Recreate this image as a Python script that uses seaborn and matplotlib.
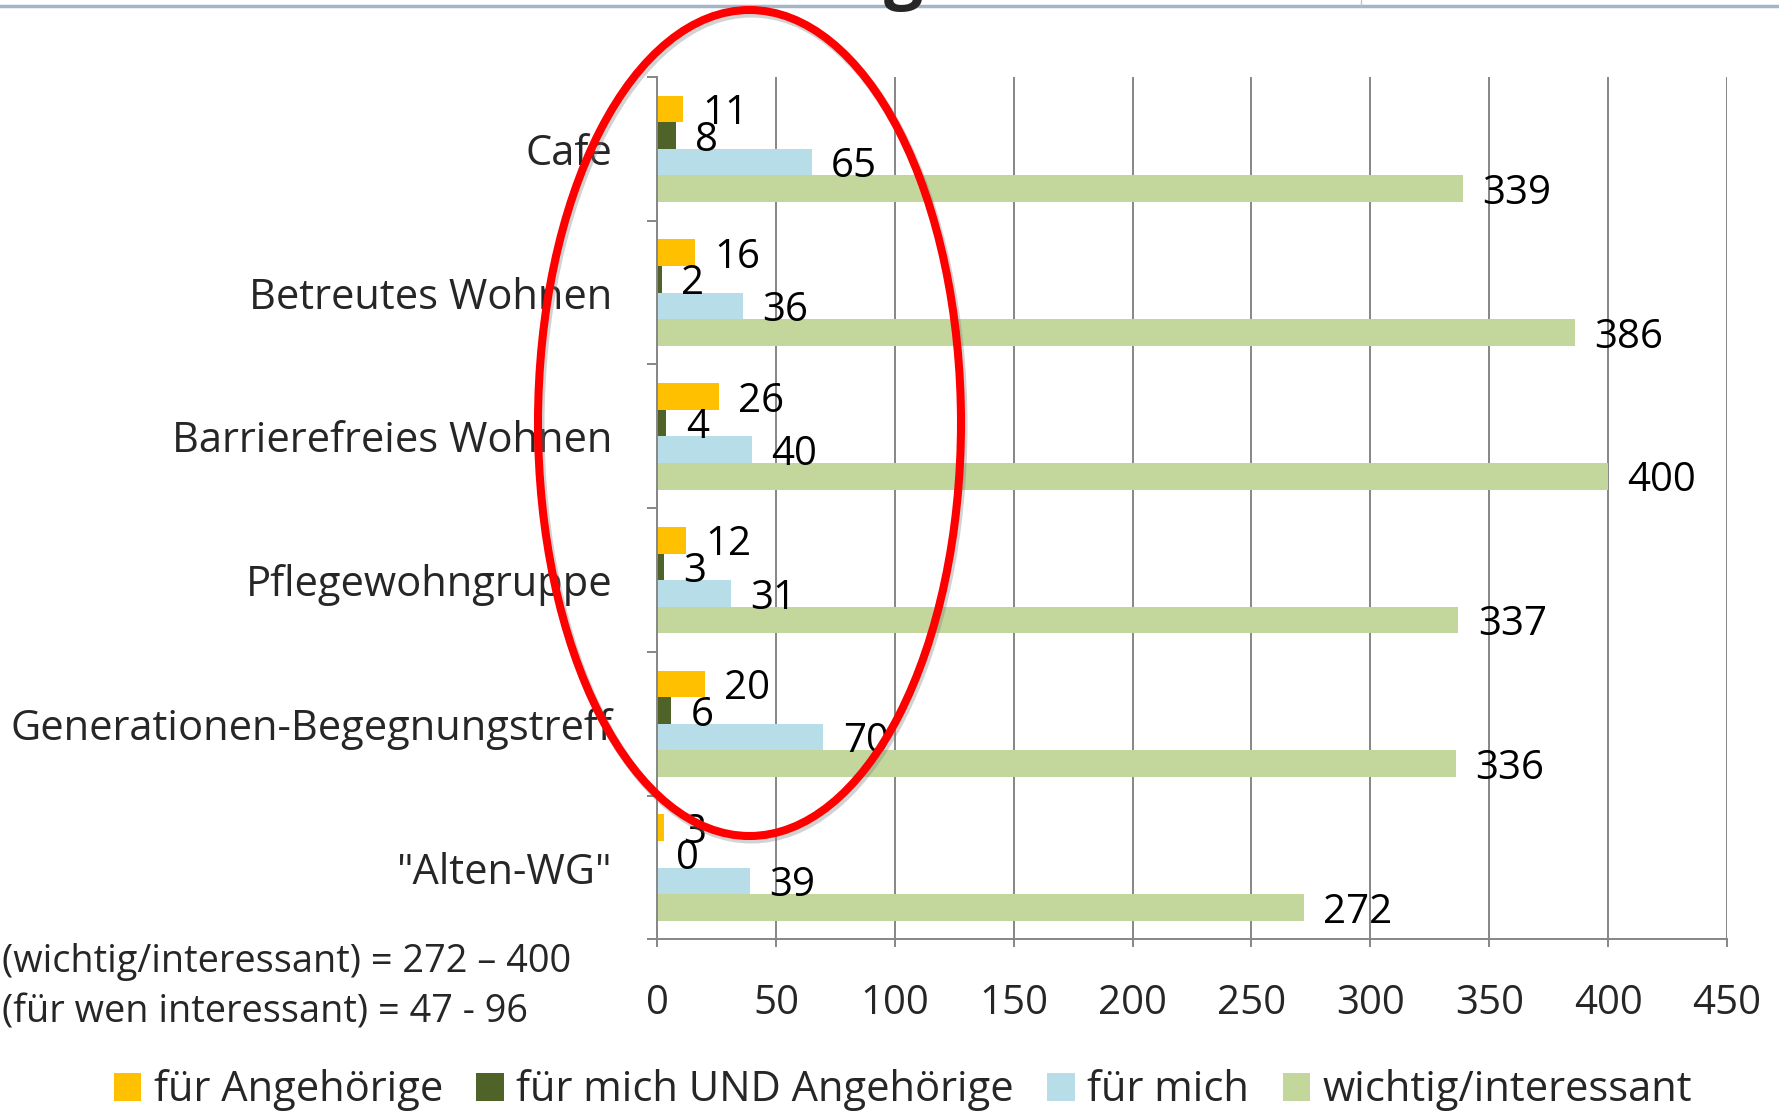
import matplotlib
matplotlib.use("Agg")
import matplotlib.pyplot as plt
import matplotlib.transforms as mtransforms
from matplotlib.patches import Ellipse
from matplotlib.lines import Line2D
import seaborn as sns
import pandas as pd

# Wohnformen und Angebote: wie viele Befragte sie wichtig finden und für wen
categories = ["Cafe", "Betreutes Wohnen", "Barrierefreies Wohnen",
              "Pflegewohngruppe", "Generationen-Begegnungstreff", '"Alten-WG"']
series = ["für Angehörige", "für mich UND Angehörige", "für mich",
          "wichtig/interessant"]
fuer_angehoerige = [11, 16, 26, 12, 20, 3]
fuer_mich_und_angehoerige = [8, 2, 4, 3, 6, 0]
fuer_mich = [65, 36, 40, 31, 70, 39]
wichtig_interessant = [339, 386, 400, 337, 336, 272]
x_ticks = [0, 50, 100, 150, 200, 250, 300, 350, 400, 450]
colors = ["#FFC000", "#4F6228", "#B7DEE8", "#C3D69B"]

rows = []
for s, vals in zip(series, [fuer_angehoerige, fuer_mich_und_angehoerige,
                            fuer_mich, wichtig_interessant]):
    for c, v in zip(categories, vals):
        rows.append({"Kategorie": c, "Gruppe": s, "Anzahl": v})
df = pd.DataFrame(rows)

sns.set_style("white")
plt.rcParams["font.family"] = ["Open Sans", "DejaVu Sans"]
FS_NUM = 29
FS_TXT = 30
GRID = "#868686"

fig = plt.figure(figsize=(17.79, 11.11), dpi=100)
ax = fig.add_axes([0.3693, 0.1544, 0.6015, 0.7763])

sns.barplot(data=df, y="Kategorie", x="Anzahl", hue="Gruppe",
            order=categories, hue_order=series, palette=colors,
            orient="h", width=0.74, gap=0, errorbar=None,
            saturation=1, linewidth=0, ax=ax)

# value labels just past the bar ends, sitting slightly low
for cont in ax.containers:
    for t in ax.bar_label(cont, fmt="%d", padding=14, fontsize=FS_NUM,
                          color="black"):
        t.xyann = (14, -3.5)

ax.set_xlim(0, 450)
ax.set_ylim(len(categories) - 0.5, -0.5)
ax.set_xticks(x_ticks)
ax.set_xticklabels([str(t) for t in x_ticks], fontsize=FS_NUM)
ax.set_xlabel("")
ax.set_ylabel("")

# category boundaries as major ticks, names on minor ticks at group centres
ax.set_yticks([i - 0.5 for i in range(len(categories) + 1)])
ax.set_yticklabels([])
ax.set_yticks(range(len(categories)), minor=True)
ax.set_yticklabels(categories, minor=True, fontsize=FS_TXT)
ax.tick_params(axis="y", which="major", length=7, width=1.4, color=GRID,
               direction="out", left=True)
ax.tick_params(axis="y", which="minor", length=0, pad=32)
ax.tick_params(axis="x", which="major", length=6, width=1.4, color=GRID,
               direction="out", bottom=True, pad=26)

ax.grid(axis="x", color=GRID, linewidth=1.4)
ax.grid(axis="y", visible=False)
ax.set_axisbelow(True)
for side in ["top", "right"]:
    ax.spines[side].set_visible(False)
for side in ["left", "bottom"]:
    ax.spines[side].set_color(GRID)
    ax.spines[side].set_linewidth(1.4)

handles, labels = ax.get_legend_handles_labels()
ax.get_legend().remove()
fig.legend(handles, labels, loc="center", bbox_to_anchor=(0.5076, 0.0185),
           ncol=4, frameon=False, fontsize=FS_TXT, handlelength=0.66,
           handleheight=0.66, handletextpad=0.3, columnspacing=0.8,
           borderaxespad=0, borderpad=0)

# range notes below the category names
fig.text(0.001, 1 - 962 / 1111, "(wichtig/interessant) = 272 – 400",
         fontsize=27.3, ha="left", va="center")
fig.text(0.001, 1 - 1012 / 1111, "(für wen interessant) = 47 - 96",
         fontsize=27.3, ha="left", va="center")

# slide header rule and the bottom of the slide title
fig.add_artist(Line2D([0, 1], [1 - 6 / 1111] * 2, transform=fig.transFigure,
                      color="#A3B6C8", linewidth=2.5))
fig.add_artist(Line2D([1361 / 1779] * 2, [1, 1 - 6 / 1111],
                      transform=fig.transFigure, color="#B8C4CE",
                      linewidth=1))
fig.text(903 / 1779, 1 + 5 / 1111, "g", fontsize=50, fontweight="bold",
         ha="center", va="baseline")

# red highlight around the "für wen" bars, with a soft grey shadow
centre = (749.5 / 1779, 1 - 423 / 1111)
size = (423 / 1779, 826 / 1111)
shadow_shift = mtransforms.ScaledTranslation(2 / 100, -3 / 100,
                                             fig.dpi_scale_trans)
shadow = Ellipse(centre, *size, transform=fig.transFigure + shadow_shift,
                 fill=False, edgecolor="#7F7F7F", alpha=0.35,
                 linewidth=6.5, zorder=9)
fig.add_artist(shadow)
ell = Ellipse(centre, *size, transform=fig.transFigure, fill=False,
              edgecolor="#FF0000", linewidth=5.8, zorder=10)
fig.add_artist(ell)

fig.savefig("out.png", dpi=100)
